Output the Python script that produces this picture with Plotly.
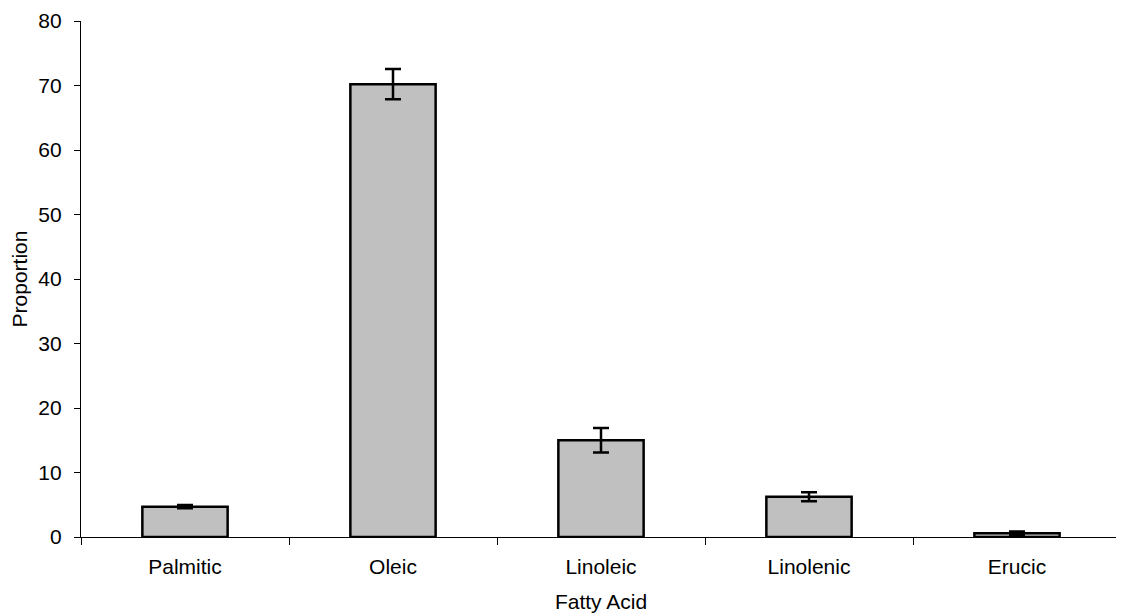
import plotly.graph_objects as go

categories = ["Palmitic", "Oleic", "Linoleic", "Linolenic", "Erucic"]
proportion = [4.7, 70.2, 15.0, 6.25, 0.6]
error = [0.25, 2.35, 1.9, 0.7, 0.25]
y_ticks = [0, 10, 20, 30, 40, 50, 60, 70, 80]

fig = go.Figure()
fig.add_trace(go.Bar(
    x=categories,
    y=proportion,
    width=0.41,
    marker=dict(color="#C0C0C0", line=dict(color="black", width=2.5)),
    error_y=dict(type="data", array=error, visible=True, color="black",
                 thickness=2.5, width=8),
))

font = dict(family="Liberation Sans, Arial, sans-serif", size=21, color="black")
fig.update_layout(
    width=1116, height=607,
    margin=dict(l=73, r=3, t=13, b=78),
    plot_bgcolor="white", paper_bgcolor="white",
    font=font,
    showlegend=False,
)
fig.update_xaxes(
    type="category", range=[-0.5, 4.5], automargin=False,
    showline=True, linecolor="black", linewidth=1.2,
    ticks="outside", tickson="boundaries", ticklen=7, tickcolor="black", tickwidth=1.2,
    ticklabelstandoff=11,
    showgrid=False, zeroline=False,
    title=dict(text="Fatty Acid", font=font, standoff=17),
)
fig.update_yaxes(
    range=[0, 80], tickvals=y_ticks, automargin=False,
    showline=True, linecolor="black", linewidth=1.2,
    ticks="outside", ticklen=6, tickcolor="black", tickwidth=1.2,
    ticklabelstandoff=8,
    showgrid=False, zeroline=False,
    title=dict(text="Proportion", font=font, standoff=11),
)

fig.write_html("out.html")
